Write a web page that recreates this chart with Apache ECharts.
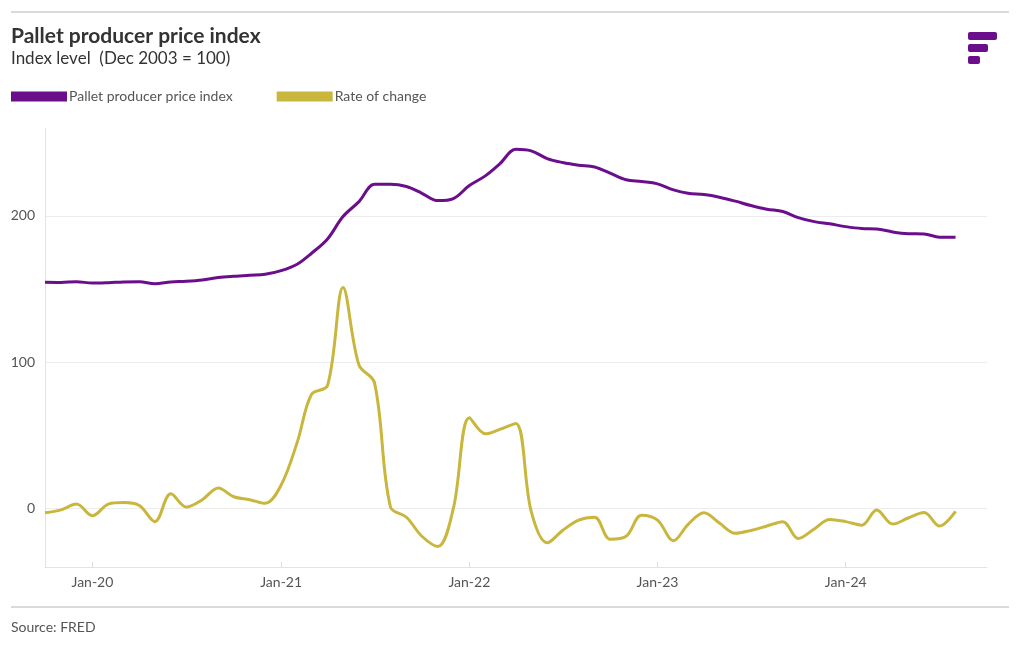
<!DOCTYPE html>
<html><head><meta charset="utf-8">
<script src="https://cdn.jsdelivr.net/npm/echarts@6/dist/echarts.min.js"></script>
<style>html,body{margin:0;padding:0;background:#fff}#c{width:1020px;height:650px}</style>
</head><body><div id="c"></div>
<script>
const months = [
'2019-10-01','2019-11-01','2019-12-01',
'2020-01-01','2020-02-01','2020-03-01','2020-04-01','2020-05-01','2020-06-01','2020-07-01','2020-08-01','2020-09-01','2020-10-01','2020-11-01','2020-12-01',
'2021-01-01','2021-02-01','2021-03-01','2021-04-01','2021-05-01','2021-06-01','2021-07-01','2021-08-01','2021-09-01','2021-10-01','2021-11-01','2021-12-01',
'2022-01-01','2022-02-01','2022-03-01','2022-04-01','2022-05-01','2022-06-01','2022-07-01','2022-08-01','2022-09-01','2022-10-01','2022-11-01','2022-12-01',
'2023-01-01','2023-02-01','2023-03-01','2023-04-01','2023-05-01','2023-06-01','2023-07-01','2023-08-01','2023-09-01','2023-10-01','2023-11-01','2023-12-01',
'2024-01-01','2024-02-01','2024-03-01','2024-04-01','2024-05-01','2024-06-01','2024-07-01','2024-08-01'];

const priceIndex = [
154.6,154.5,155.0,
154.0,154.3,154.8,155.0,153.6,154.8,155.3,156.2,157.8,158.7,159.4,160.0,
162.5,166.9,174.4,184.2,199.5,209.7,221.6,221.6,220.0,215.4,210.4,211.8,
220.7,227.3,235.5,245.5,244.4,239.1,236.4,234.6,233.4,229.1,224.6,223.4,
221.8,217.7,215.4,214.5,212.7,210.0,207.0,204.5,202.9,198.8,196.0,194.5,
192.6,191.3,191.0,189.0,187.8,187.6,185.4,185.4];

const rateOfChange = [
-3,-1,3,
-5,3,4,2,-9,10,1,6,14,8,6,3.5,
16,45,78,84,151,98,86,1,-6,-19,-26,0,
62,51,54,58,-2,-23.5,-15,-8,-6,-21,-19,-4.6,
-8,-22,-11,-3,-10,-17,-15,-12,-9,-20.5,-14,-7.5,
-9,-11.4,-1,-10.7,-6.5,-2.7,-12,-2];

const seriesNames = ['Pallet producer price index', 'Rate of change'];
const tickDates = ['2020-01-01','2021-01-01','2022-01-01','2023-01-01','2024-01-01'];
const tickLabels = ['Jan-20','Jan-21','Jan-22','Jan-23','Jan-24'];
const xRange = ['2019-10-01', '2024-10-01'];
const yTicks = [0, 100, 200];

const PURPLE = '#6a0e8c';
const YELLOW = '#c9b63d';
const FONT = 'Lato, "Open Sans", sans-serif';

function ts(s) { const p = s.split('-').map(Number); return Date.UTC(p[0], p[1] - 1, p[2]); }
const tickTimes = tickDates.map(ts);

const chart = echarts.init(document.getElementById('c'), null, {renderer: 'canvas'});
chart.setOption({
  animation: false,
  backgroundColor: '#fff',
  textStyle: {fontFamily: FONT},
  title: {
    text: 'Pallet producer price index',
    subtext: 'Index level  (Dec 2003 = 100)',
    left: 6, top: 20.5,
    itemGap: 4,
    textStyle: {fontFamily: FONT, fontSize: 21, fontWeight: 'bold', color: '#333'},
    subtextStyle: {fontFamily: FONT, fontSize: 17, color: '#333'}
  },
  legend: {
    left: 11, top: 89.5, padding: 0,
    itemWidth: 56, itemHeight: 10, itemGap: 44,
    icon: 'rect',
    data: seriesNames,
    textStyle: {fontFamily: FONT, fontSize: 14, color: '#555', padding: [0, 0, 0, -3]}
  },
  grid: {left: 45, right: 33, top: 128, bottom: 83, outerBoundsMode: 'none', containLabel: false},
  xAxis: {
    type: 'value',
    min: ts(xRange[0]), max: ts(xRange[1]),
    axisLine: {show: true, onZero: false, lineStyle: {color: '#e3e3e3', width: 1}},
    axisTick: {show: true, inside: true, length: 5, customValues: tickTimes, lineStyle: {color: '#dcdcdc'}},
    axisLabel: {
      customValues: tickTimes,
      color: '#555', fontSize: 14, margin: 8, fontFamily: FONT,
      formatter: function (v) {
        let best = 0, bd = Infinity;
        tickTimes.forEach((t, i) => { const d = Math.abs(t - v); if (d < bd) { bd = d; best = i; } });
        return tickLabels[best];
      }
    },
    splitLine: {show: false}
  },
  yAxis: {
    type: 'value',
    min: -40, max: 260,
    axisLine: {show: true, lineStyle: {color: '#e3e3e3', width: 1}},
    axisTick: {show: false, customValues: yTicks},
    axisLabel: {customValues: yTicks, color: '#555', fontSize: 14, margin: 10, fontFamily: FONT},
    splitLine: {show: true, lineStyle: {color: '#ececec', width: 1}}
  },
  series: [
    {
      name: seriesNames[1], type: 'line', color: YELLOW,
      data: months.map((m, i) => [ts(m), rateOfChange[i]]),
      showSymbol: false, smooth: 0.35,
      lineStyle: {width: 3, color: YELLOW}, z: 2
    },
    {
      name: seriesNames[0], type: 'line', color: PURPLE,
      data: months.map((m, i) => [ts(m), priceIndex[i]]),
      showSymbol: false, smooth: 0.35,
      lineStyle: {width: 3, color: PURPLE}, z: 3
    }
  ],
  graphic: [
    {type: 'line', shape: {x1: 11, y1: 12, x2: 1009, y2: 12}, style: {stroke: '#dadada', lineWidth: 2}},
    {type: 'line', shape: {x1: 11, y1: 607, x2: 1009, y2: 607}, style: {stroke: '#dadada', lineWidth: 2}},
    {type: 'text', left: 11, top: 620, style: {text: 'Source: FRED', fill: '#555', fontSize: 14, fontFamily: FONT}},
    {type: 'rect', shape: {x: 968, y: 32, width: 29, height: 8, r: 2}, style: {fill: PURPLE}},
    {type: 'rect', shape: {x: 968, y: 44, width: 20, height: 8, r: 2}, style: {fill: PURPLE}},
    {type: 'rect', shape: {x: 968, y: 56, width: 12, height: 8, r: 2}, style: {fill: PURPLE}}
  ]
});
</script>
</body></html>
